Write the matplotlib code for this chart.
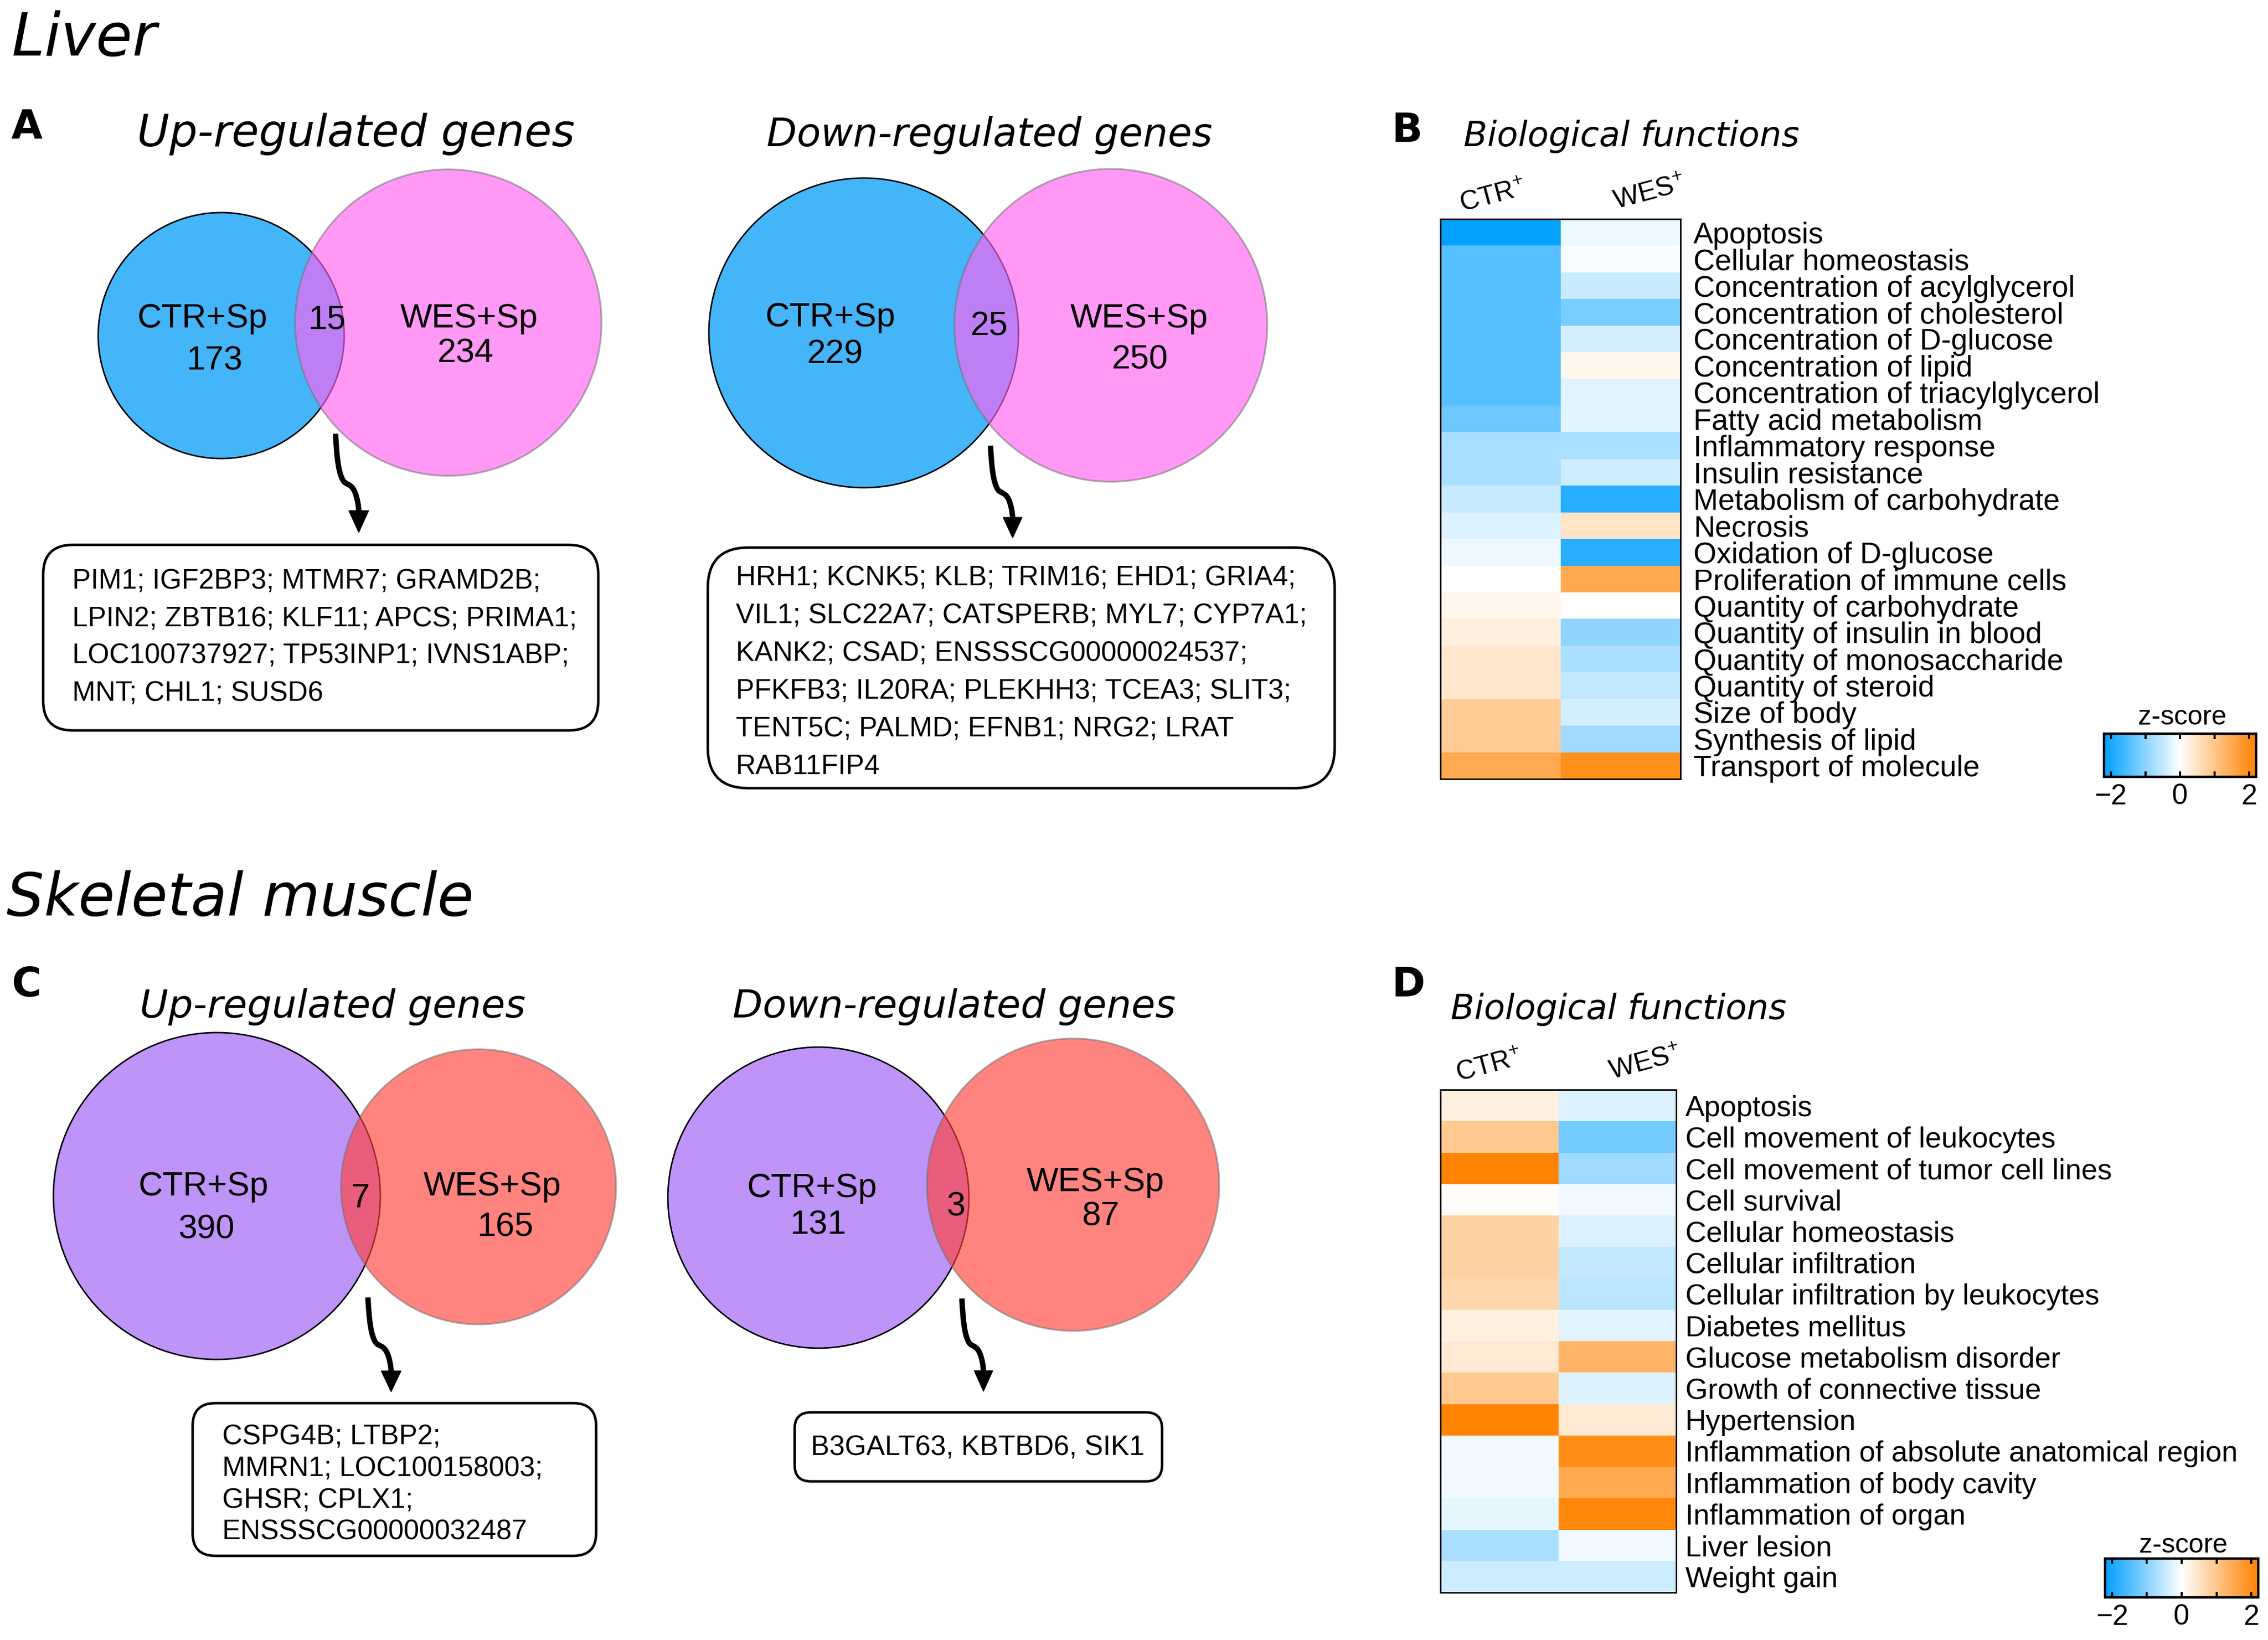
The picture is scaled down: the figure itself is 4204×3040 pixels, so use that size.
import numpy as np
import matplotlib
matplotlib.use('Agg')
import matplotlib.pyplot as plt
from matplotlib.patches import Circle, FancyBboxPatch, Polygon, PathPatch
from matplotlib.path import Path
from matplotlib.colors import LinearSegmentedColormap, Normalize
import matplotlib.cm as cm

# ------------------------------------------------------------------ data
set_labels = ['CTR+Sp', 'WES+Sp']
liver_up_counts = [173, 15, 234]
liver_down_counts = [229, 25, 250]
muscle_up_counts = [390, 7, 165]
muscle_down_counts = [131, 3, 87]

liver_up_genes = ["PIM1; IGF2BP3; MTMR7; GRAMD2B;",
                  "LPIN2; ZBTB16; KLF11; APCS; PRIMA1;",
                  "LOC100737927; TP53INP1; IVNS1ABP;",
                  "MNT; CHL1; SUSD6"]
liver_down_genes = ["HRH1; KCNK5; KLB; TRIM16; EHD1; GRIA4;",
                    "VIL1; SLC22A7; CATSPERB; MYL7; CYP7A1;",
                    "KANK2; CSAD; ENSSSCG00000024537;",
                    "PFKFB3; IL20RA; PLEKHH3; TCEA3; SLIT3;",
                    "TENT5C; PALMD; EFNB1; NRG2; LRAT",
                    "RAB11FIP4"]
muscle_up_genes = ["CSPG4B; LTBP2;",
                   "MMRN1; LOC100158003;",
                   "GHSR; CPLX1;",
                   "ENSSSCG00000032487"]
muscle_down_genes = ["B3GALT63, KBTBD6, SIK1"]

heat_columns = ['CTR$^{+}$', 'WES$^{+}$']

liver_functions = ["Apoptosis", "Cellular homeostasis", "Concentration of acylglycerol",
                   "Concentration of cholesterol", "Concentration of D-glucose",
                   "Concentration of lipid", "Concentration of triacylglycerol",
                   "Fatty acid metabolism", "Inflammatory response", "Insulin resistance",
                   "Metabolism of carbohydrate", "Necrosis", "Oxidation of D-glucose",
                   "Proliferation of immune cells", "Quantity of carbohydrate",
                   "Quantity of insulin in blood", "Quantity of monosaccharide",
                   "Quantity of steroid", "Size of body", "Synthesis of lipid",
                   "Transport of molecule"]
liver_ctr = [-2.15, -1.45, -1.45, -1.45, -1.45, -1.45, -1.45, -1.25, -0.73, -0.73,
             -0.48, -0.30, -0.15, 0.0, 0.17, 0.28, 0.43, 0.43, 0.90, 0.90, 1.50]
liver_wes = [-0.17, -0.08, -0.48, -1.15, -0.39, 0.17, -0.26, -0.26, -0.73, -0.43,
             -1.85, 0.48, -1.85, 1.50, 0.0, -0.95, -0.73, -0.52, -0.39, -0.82, 1.95]

muscle_functions = ["Apoptosis", "Cell movement of leukocytes",
                    "Cell movement of tumor cell lines", "Cell survival",
                    "Cellular homeostasis", "Cellular infiltration",
                    "Cellular infiltration by leukocytes", "Diabetes mellitus",
                    "Glucose metabolism disorder", "Growth of connective tissue",
                    "Hypertension", "Inflammation of absolute anatomical region",
                    "Inflammation of body cavity", "Inflammation of organ",
                    "Liver lesion", "Weight gain"]
muscle_ctr = [0.26, 0.95, 2.15, 0.04, 0.78, 0.78, 0.70, 0.26, 0.39, 0.95,
              2.15, -0.11, -0.13, -0.22, -0.73, -0.43]
muscle_wes = [-0.30, -1.20, -0.82, -0.13, -0.30, -0.52, -0.60, -0.26, 1.30, -0.30,
              0.39, 2.00, 1.50, 2.10, -0.13, -0.43]

cbar_ticks = [-2, -1, 0, 1, 2]
cbar_ticklabels = ['\u22122', '', '0', '', '2']

# ------------------------------------------------------------------ setup
W, H = 4204, 3040
DPI = 200
PT = 72.0 / DPI          # points per pixel
SANS = 'Liberation Sans'
TITLE = 'DejaVu Sans'
plt.rcParams['mathtext.fontset'] = 'custom'
plt.rcParams['mathtext.rm'] = SANS
plt.rcParams['mathtext.it'] = SANS + ':italic'
plt.rcParams['mathtext.bf'] = SANS + ':bold'

fig = plt.figure(figsize=(W / DPI, H / DPI), dpi=DPI)
fig.patch.set_facecolor('white')
ax0 = fig.add_axes([0, 0, 1, 1])
ax0.set_xlim(0, W)
ax0.set_ylim(H, 0)
ax0.axis('off')


def rect_px(x0, y0, x1, y1):
    return [x0 / W, 1 - y1 / H, (x1 - x0) / W, (y1 - y0) / H]


cmap = LinearSegmentedColormap.from_list('zscore', [(0.0, '#009FFF'), (0.5, '#FFFFFF'), (1.0, '#FF8200')])
norm = Normalize(vmin=-2.2, vmax=2.2)

# ------------------------------------------------------------------ titles
ax0.text(21, 103, 'Liver', family=TITLE, style='italic', fontsize=39.5, va='baseline', ha='left')
ax0.text(12, 1697, 'Skeletal muscle', family=TITLE, style='italic', fontsize=39.5, va='baseline', ha='left')
for lab, (x, y) in {'A': (21, 257), 'B': (2579, 263), 'C': (21, 1847), 'D': (2579, 1847)}.items():
    ax0.text(x, y, lab, family=TITLE, weight='bold', fontsize=27, va='baseline', ha='left')

ax0.text(660, 271, 'Up-regulated genes', family=TITLE, style='italic', fontsize=29.5, ha='center', va='baseline')
ax0.text(1834, 271, 'Down-regulated genes', family=TITLE, style='italic', fontsize=26.2, ha='center', va='baseline')
ax0.text(2713, 271, 'Biological functions', family=TITLE, style='italic', fontsize=23, ha='left', va='baseline')
ax0.text(617, 1886, 'Up-regulated genes', family=TITLE, style='italic', fontsize=26, ha='center', va='baseline')
ax0.text(1769, 1886, 'Down-regulated genes', family=TITLE, style='italic', fontsize=26, ha='center', va='baseline')
ax0.text(2689, 1889, 'Biological functions', family=TITLE, style='italic', fontsize=23, ha='left', va='baseline')


# ------------------------------------------------------------------ venn diagrams
def venn(c1, r1, c2, r2, col1, col2, counts, pos):
    ax0.add_patch(Circle(c1, r1, facecolor=col1, edgecolor='black', lw=1.0, zorder=2))
    ax0.add_patch(Circle(c2, r2, facecolor=col2, edgecolor=(0.45, 0.45, 0.45, 0.55), lw=1.2, zorder=3))
    fs = 22.5
    ax0.text(*pos[0], set_labels[0], family=SANS, fontsize=fs, ha='center', va='center_baseline', zorder=5)
    ax0.text(*pos[1], str(counts[0]), family=SANS, fontsize=fs, ha='center', va='center_baseline', zorder=5)
    ax0.text(*pos[2], str(counts[1]), family=SANS, fontsize=fs, ha='center', va='center_baseline', zorder=5)
    ax0.text(*pos[3], set_labels[1], family=SANS, fontsize=fs, ha='center', va='center_baseline', zorder=5)
    ax0.text(*pos[4], str(counts[2]), family=SANS, fontsize=fs, ha='center', va='center_baseline', zorder=5)


blue, pink = '#45B5FA', (1.0, 98 / 255, 240 / 255, 0.65)
purple, red = '#BE94F8', (1.0, 66 / 255, 58 / 255, 0.65)

venn((410, 622), 228, (831, 598), 284, blue, pink, liver_up_counts,
     [(375, 584), (397, 662), (606, 587), (869, 584), (863, 649)])
venn((1601, 617), 287, (2059, 603), 290, blue, pink, liver_down_counts,
     [(1539, 582), (1548, 651), (1834, 598), (2111, 584), (2113, 660)])
venn((402, 2217), 303, (887, 2200), 255, purple, red, muscle_up_counts,
     [(378, 2193), (383, 2273), (668, 2215), (912, 2193), (936, 2268)])
venn((1517, 2220), 279, (1989, 2196), 271, purple, red, muscle_down_counts,
     [(1505, 2196), (1516, 2265), (1772, 2231), (2030, 2185), (2040, 2249)])


# ------------------------------------------------------------------ arrows
def squiggle_arrow(start, tip):
    sx = (tip[0] - start[0]) / 42.0
    sy = (tip[1] - start[1]) / 176.0
    shape = [(0, 0), (2, 40), (5, 70), (14, 84), (20, 92), (28, 88), (35, 104),
             (39, 114), (42, 128), (42, 140)]
    verts = [(start[0] + x * sx, start[1] + y * sy) for x, y in shape]
    codes = [Path.MOVETO] + [Path.CURVE4] * 9
    ax0.add_patch(PathPatch(Path(verts, codes), facecolor='none', edgecolor='black',
                            lw=3.6, capstyle='butt', zorder=4))
    head = [(start[0] + (42 - 18) * sx, start[1] + 137 * sy),
            (start[0] + (42 + 18) * sx, start[1] + 137 * sy),
            (start[0] + 42 * sx, start[1] + 176 * sy)]
    ax0.add_patch(Polygon(head, closed=True, facecolor='black', edgecolor='black', lw=0.5, zorder=4))


squiggle_arrow((622, 804), (665, 987))
squiggle_arrow((1836, 826), (1877, 997))
squiggle_arrow((682, 2405), (725, 2580))
squiggle_arrow((1783, 2407), (1823, 2579))


# ------------------------------------------------------------------ gene boxes
def gene_box(x0, y0, x1, y1, radius, lines, tx, ty0, dy, ha='left'):
    ax0.add_patch(FancyBboxPatch((x0, y0), x1 - x0, y1 - y0,
                                 boxstyle='round,pad=0,rounding_size=%d' % radius,
                                 facecolor='white', edgecolor='black', lw=1.7, zorder=4))
    for i, line in enumerate(lines):
        ax0.text(tx, ty0 + i * dy, line, family=SANS, fontsize=18.5, ha=ha, va='baseline', zorder=5)


gene_box(80, 1010, 1109, 1354, 55, liver_up_genes, 134, 1092, 69)
gene_box(1312, 1015, 2474, 1461, 75, liver_down_genes, 1364, 1085, 70)
gene_box(357, 2601, 1105, 2884, 42, muscle_up_genes, 412, 2678, 58.5)
gene_box(1473, 2618, 2154, 2746, 30, muscle_down_genes, 1812, 2698, 0, ha='center')


# ------------------------------------------------------------------ heatmaps
def heatmap(x0, y0, x1, y1, ctr, wes, labels, fs, pad_px):
    ax = fig.add_axes(rect_px(x0, y0, x1, y1))
    data = np.column_stack([ctr, wes])
    n = data.shape[0]
    ax.pcolormesh(data, cmap=cmap, norm=norm)
    ax.set_xlim(0, 2)
    ax.set_ylim(n, 0)
    ax.set_xticks([])
    ax.set_yticks(np.arange(n) + 0.5)
    ax.set_yticklabels(labels, family=SANS, fontsize=fs)
    ax.yaxis.tick_right()
    ax.tick_params(axis='y', length=0, pad=pad_px * PT)
    for s in ax.spines.values():
        s.set_linewidth(1.0)
        s.set_color('black')
    return ax


heatmap(2670, 406, 3115, 1444, liver_ctr, liver_wes, liver_functions, 19.8, 24)
heatmap(2670, 2020, 3107, 2952, muscle_ctr, muscle_wes, muscle_functions, 19.3, 17)

# column labels (rotated)
for lab, (x, y) in zip(heat_columns, [(2767, 364), (3057, 358)]):
    ax0.text(x, y, lab, family=SANS, fontsize=18, rotation=15, ha='center', va='center',
             rotation_mode='anchor')
for lab, (x, y) in zip(heat_columns, [(2760, 1976), (3049, 1971)]):
    ax0.text(x, y, lab, family=SANS, fontsize=18, rotation=15, ha='center', va='center',
             rotation_mode='anchor')


# ------------------------------------------------------------------ colorbars
def zbar(x0, y0, x1, y1, title_xy):
    cax = fig.add_axes(rect_px(x0, y0, x1, y1))
    cb = fig.colorbar(cm.ScalarMappable(norm=norm, cmap=cmap), cax=cax,
                      orientation='horizontal', ticks=cbar_ticks)
    cb.minorticks_off()
    cax.set_xticklabels(cbar_ticklabels, family=SANS, fontsize=19)
    cax.tick_params(axis='x', which='major', direction='in', length=10 * PT, width=1.4,
                    top=True, bottom=True, labelbottom=True, labeltop=False, pad=12 * PT)
    cb.outline.set_linewidth(1.6)
    ax0.text(title_xy[0], title_xy[1], 'z-score', family=SANS, fontsize=18,
             ha='center', va='baseline')


zbar(3900, 1360, 4182, 1440, (4045, 1343))
zbar(3902, 2889, 4186, 2961, (4047, 2878))

fig.savefig('out.png', dpi=DPI, facecolor='white')
